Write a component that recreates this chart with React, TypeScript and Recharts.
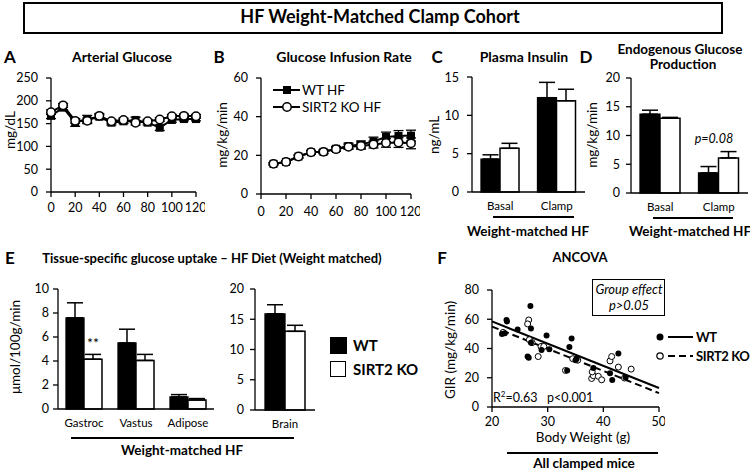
import React from 'react'
import {
  LineChart,
  Line,
  BarChart,
  Bar,
  ScatterChart,
  Scatter,
  XAxis,
  YAxis,
  ErrorBar,
  ReferenceLine
} from 'recharts'

const FONT = 'Lato, "Open Sans", sans-serif'

// A - arterial glucose (mg/dL)
const glucoseTimes = [0, 10, 20, 30, 40, 50, 60, 70, 80, 90, 100, 110, 120]
const glucoseWT = [167, 185, 152, 160, 165, 152, 155, 158, 152, 141, 158, 160, 160]
const glucoseWTErr = [6, 5, 8, 8, 5, 5, 5, 6, 5, 6, 5, 4, 4]
const glucoseKO = [175, 190, 156, 156, 167, 155, 158, 152, 155, 159, 166, 167, 166]
const glucoseKOErr = [5, 4, 5, 6, 5, 4, 4, 5, 4, 4, 4, 4, 4]

// B - glucose infusion rate (mg/kg/min)
const girTimes = [10, 20, 30, 40, 50, 60, 70, 80, 90, 100, 110, 120]
const girWT = [15.6, 16.6, 19.4, 21.6, 21.8, 23.4, 24.8, 25.6, 27.2, 29.5, 30, 30.2]
const girWTErr = [0.6, 0.6, 0.8, 1, 1, 1.2, 1.5, 1.8, 2.2, 2.5, 2.8, 2.8]
const girKO = [15.6, 16.6, 19.4, 21.6, 21.8, 23.2, 24.4, 24.8, 25.6, 26.4, 26.6, 26.2]
const girKOErr = [0.5, 0.5, 0.7, 0.8, 0.8, 1, 1.2, 1.6, 1.8, 2.2, 2.5, 2.8]

// C - plasma insulin (ng/mL)
const clampGroups = ['Basal', 'Clamp']
const insulinWT = [4.3, 12.3]
const insulinWTErr = [0.55, 2.0]
const insulinKO = [5.7, 11.9]
const insulinKOErr = [0.65, 1.5]

// D - endogenous glucose production (mg/kg/min)
const egpWT = [13.7, 3.5]
const egpWTErr = [0.7, 1.1]
const egpKO = [13.0, 6.1]
const egpKOErr = [0.15, 1.1]

// E - tissue glucose uptake (umol/100g/min)
const tissues = ['Gastroc', 'Vastus', 'Adipose']
const uptakeWT = [7.6, 5.5, 1.0]
const uptakeWTErr = [1.25, 1.15, 0.2]
const uptakeKO = [4.15, 4.05, 0.75]
const uptakeKOErr = [0.4, 0.5, 0.12]
const brainGroups = ['Brain']
const brainWT = [15.9]
const brainWTErr = [1.5]
const brainKO = [13.0]
const brainKOErr = [1.0]

// F - GIR vs body weight
const wtWeight = [22.6, 22.7, 21.8, 22.3, 24.6, 26.9, 27.0, 26.4, 26.6, 29.8, 28.9, 30.3, 34.3, 33.9, 33.5, 35.2, 38.2, 42.7, 41.6, 44.0, 41.2, 27.0, 35.0]
const wtGIR = [59.5, 58.5, 50, 50.5, 53, 69, 53.6, 34.5, 33.6, 48.9, 39, 39.5, 46.8, 41, 25, 33, 26.6, 36.5, 18.5, 20.2, 23, 44, 32]
const koWeight = [26.6, 26.4, 26.7, 27.2, 28.3, 28.8, 29.3, 37.9, 38.2, 39.1, 39.7, 41.2, 41.5, 42.7, 45.0, 35.4, 33.2, 43.8, 38.0, 22.0, 34.5]
const koGIR = [59.5, 56.8, 46, 44, 34.5, 41.4, 41.4, 19.5, 21.4, 21, 18.6, 31.5, 34.5, 27.3, 25.9, 32, 25, 19.8, 24, 51, 33]
const fitWeight = [20, 50]
const wtFit = [58.5, 13]
const koFit = [55, 9.5]

const glucoseData = glucoseTimes.map((t, i) => ({
  t,
  wt: glucoseWT[i],
  wtErr: glucoseWTErr[i],
  ko: glucoseKO[i],
  koErr: glucoseKOErr[i]
}))

const girData = girTimes.map((t, i) => ({
  t,
  wt: girWT[i],
  wtErr: girWTErr[i],
  ko: girKO[i],
  koErr: girKOErr[i]
}))

function barTable(names: string[], wt: number[], wtErr: number[], ko: number[], koErr: number[]) {
  return names.map((name, i) => ({
    name,
    wt: wt[i],
    wtErr: [0, wtErr[i]],
    ko: ko[i],
    koErr: [0, koErr[i]]
  }))
}

const insulinData = barTable(clampGroups, insulinWT, insulinWTErr, insulinKO, insulinKOErr)
const egpData = barTable(clampGroups, egpWT, egpWTErr, egpKO, egpKOErr)
const uptakeData = barTable(tissues, uptakeWT, uptakeWTErr, uptakeKO, uptakeKOErr)
const brainData = barTable(brainGroups, brainWT, brainWTErr, brainKO, brainKOErr)

const wtPoints = wtWeight.map((x, i) => ({ x, y: wtGIR[i] }))
const koPoints = koWeight.map((x, i) => ({ x, y: koGIR[i] }))

const axisLine = { stroke: '#000', strokeWidth: 1.3 }
const tickLine = { stroke: '#000', strokeWidth: 1.3 }
const tickStyle = { fill: '#000', fontSize: 12.5, fontFamily: FONT }
const catTickStyle = { fill: '#000', fontSize: 11.5, fontFamily: FONT }

function Txt({ x, y, children, size = 13, bold = false, italic = false, anchor = 'middle', rotate = false, spacing = 0 }: any) {
  const tx = anchor === 'middle' ? '-50%' : anchor === 'end' ? '-100%' : '0'
  return (
    <div
      style={{
        position: 'absolute',
        left: x,
        top: y,
        transform: `translate(${tx}, -50%)${rotate ? ' rotate(-90deg)' : ''}`,
        fontSize: size,
        fontWeight: bold ? 700 : 400,
        fontStyle: italic ? 'italic' : 'normal',
        letterSpacing: spacing,
        whiteSpace: 'nowrap',
        lineHeight: 1.1,
        fontFamily: FONT,
        color: '#000'
      }}
    >
      {children}
    </div>
  )
}

function HLine({ x1, x2, y }: any) {
  return <div style={{ position: 'absolute', left: x1, top: y, width: x2 - x1, height: 1.6, background: '#000' }} />
}

function SquareDot(props: any) {
  const { cx, cy, index } = props
  if (cx == null || cy == null) return null
  return <rect key={`sq-${index}`} x={cx - 4} y={cy - 4} width={8} height={8} fill="#000" />
}

const circleDot = { r: 4.2, fill: '#fff', stroke: '#000', strokeWidth: 1.5 }

function Place({ left, top, children }: any) {
  return <div style={{ position: 'absolute', left, top }}>{children}</div>
}

function GroupBars({ data, width, height, margin, yWidth, yMax, yTicks, yMargin, barSize }: any) {
  const sepTicks = data.map((_: any, i: number) => i).concat(data.length)
  return (
    <BarChart width={width} height={height} data={data} margin={margin} barGap={0} barSize={barSize}>
      <XAxis
        xAxisId="sep"
        type="number"
        domain={[0, data.length]}
        ticks={sepTicks}
        tick={false}
        height={0}
        axisLine={false}
        tickLine={tickLine}
        tickSize={5}
        allowDataOverflow
      />
      <XAxis
        dataKey="name"
        axisLine={axisLine}
        tickLine={false}
        tickSize={0}
        tickMargin={10}
        tick={catTickStyle}
        height={25}
        interval={0}
      />
      <YAxis
        type="number"
        domain={[0, yMax]}
        ticks={yTicks}
        width={yWidth}
        axisLine={axisLine}
        tickLine={tickLine}
        tickSize={5}
        tickMargin={yMargin}
        tick={tickStyle}
      />
      <Bar dataKey="wt" fill="#000" stroke="#000" strokeWidth={1.3} isAnimationActive={false}>
        <ErrorBar dataKey="wtErr" width={8} stroke="#000" strokeWidth={1.5} direction="y" />
      </Bar>
      <Bar dataKey="ko" fill="#fff" stroke="#000" strokeWidth={1.5} isAnimationActive={false}>
        <ErrorBar dataKey="koErr" width={8} stroke="#000" strokeWidth={1.5} direction="y" />
      </Bar>
    </BarChart>
  )
}

function TimeCourse({ data, width, height, margin, yMax, yTicks, xMargin }: any) {
  return (
    <LineChart width={width} height={height} data={data} margin={margin}>
      <XAxis
        dataKey="t"
        type="number"
        domain={[0, 120]}
        ticks={[0, 20, 40, 60, 80, 100, 120]}
        axisLine={axisLine}
        tickLine={tickLine}
        tickSize={5}
        tickMargin={xMargin}
        tick={tickStyle}
        height={25}
      />
      <YAxis
        type="number"
        domain={[0, yMax]}
        ticks={yTicks}
        width={51}
        axisLine={axisLine}
        tickLine={tickLine}
        tickSize={5}
        tickMargin={8}
        tick={tickStyle}
      />
      <Line dataKey="wt" stroke="#000" strokeWidth={2} dot={SquareDot} isAnimationActive={false}>
        <ErrorBar dataKey="wtErr" width={5} stroke="#000" strokeWidth={1.3} direction="y" />
      </Line>
      <Line dataKey="ko" stroke="#000" strokeWidth={2} dot={circleDot} isAnimationActive={false}>
        <ErrorBar dataKey="koErr" width={5} stroke="#000" strokeWidth={1.3} direction="y" />
      </Line>
    </LineChart>
  )
}

function FilledDot(props: any) {
  return <circle cx={props.cx} cy={props.cy} r={3} fill="#000" />
}

function OpenDot(props: any) {
  return <circle cx={props.cx} cy={props.cy} r={3} fill="#fff" stroke="#000" strokeWidth={1} />
}

export default function App() {
  return (
    <div
      style={{
        position: 'absolute',
        left: 0,
        top: 0,
        width: 750,
        height: 470,
        background: '#fff',
        overflow: 'hidden',
        fontFamily: FONT
      }}
    >
      {/* header */}
      <div
        style={{
          position: 'absolute',
          left: 23,
          top: 2,
          width: 696,
          height: 28,
          border: '2px solid #000'
        }}
      />
      <Txt x={380} y={17} size={18} bold>HF Weight-Matched Clamp Cohort</Txt>

      {/* A */}
      <Txt x={10} y={57} size={17} bold>A</Txt>
      <Txt x={122} y={57} size={14} bold>Arterial Glucose</Txt>
      <Txt x={10} y={130} size={13.5} rotate>mg/dL</Txt>
      <Place left={0} top={70}>
        <TimeCourse
          data={glucoseData}
          width={205}
          height={147}
          margin={{ top: 8, right: 9, left: 0, bottom: 0 }}
          yMax={250}
          yTicks={[0, 50, 100, 150, 200, 250]}
          xMargin={6}
        />
      </Place>

      {/* B */}
      <Txt x={219} y={57} size={17} bold>B</Txt>
      <Txt x={344} y={57} size={14} bold>Glucose Infusion Rate</Txt>
      <Txt x={222} y={135} size={13.5} rotate>mg/kg/min</Txt>
      <Place left={210} top={70}>
        <TimeCourse
          data={girData}
          width={210}
          height={149}
          margin={{ top: 8, right: 9, left: 0, bottom: 0 }}
          yMax={60}
          yTicks={[0, 20, 40, 60]}
          xMargin={8}
        />
      </Place>
      <svg style={{ position: 'absolute', left: 270, top: 80 }} width={34} height={36}>
        <line x1={3} x2={30} y1={10} y2={10} stroke="#000" strokeWidth={2} />
        <rect x={13} y={6} width={8} height={8} fill="#000" />
        <line x1={3} x2={30} y1={27} y2={27} stroke="#000" strokeWidth={2} />
        <circle cx={17} cy={27} r={4.2} fill="#fff" stroke="#000" strokeWidth={1.5} />
      </svg>
      <Txt x={302} y={90} size={13.5} anchor="start">WT HF</Txt>
      <Txt x={302} y={107} size={13.5} anchor="start">SIRT2 KO HF</Txt>

      {/* C */}
      <Txt x={437} y={57} size={17} bold>C</Txt>
      <Txt x={524} y={57} size={14} bold>Plasma Insulin</Txt>
      <Txt x={434} y={135} size={13.5} rotate>ng/mL</Txt>
      <Place left={440} top={70}>
        <GroupBars
          data={insulinData}
          width={150}
          height={147}
          margin={{ top: 7, right: 5, left: 0, bottom: 0 }}
          yWidth={32}
          yMax={15}
          yTicks={[0, 5, 10, 15]}
          yMargin={8}
          barSize={19}
        />
      </Place>
      <HLine x1={493} x2={574} y={216} />
      <Txt x={528} y={231} size={13.5} bold>Weight-matched HF</Txt>

      {/* D */}
      <Txt x={586} y={57} size={17} bold>D</Txt>
      <Txt x={680} y={49} size={13.5} bold>Endogenous Glucose</Txt>
      <Txt x={683} y={64} size={13.5} bold>Production</Txt>
      <Txt x={592} y={135} size={13.5} rotate>mg/kg/min</Txt>
      <Place left={600} top={70}>
        <GroupBars
          data={egpData}
          width={150}
          height={148}
          margin={{ top: 8, right: 2, left: 0, bottom: 0 }}
          yWidth={31}
          yMax={20}
          yTicks={[0, 5, 10, 15, 20]}
          yMargin={6}
          barSize={20}
        />
      </Place>
      <Txt x={714} y={139} size={12.5} italic>p=0.08</Txt>
      <HLine x1={653} x2={733} y={217} />
      <Txt x={690} y={231} size={13.5} bold>Weight-matched HF</Txt>

      {/* E */}
      <Txt x={10} y={258} size={17} bold>E</Txt>
      <Txt x={212} y={258} size={13} bold>Tissue-specific glucose uptake – HF Diet (Weight matched)</Txt>
      <Txt x={15} y={347} size={13.5} rotate>μmol/100g/min</Txt>
      <Place left={20} top={280}>
        <GroupBars
          data={uptakeData}
          width={200}
          height={154}
          margin={{ top: 9, right: 6, left: 0, bottom: 0 }}
          yWidth={38}
          yMax={10}
          yTicks={[0, 2, 4, 6, 8, 10]}
          yMargin={4}
          barSize={18}
        />
      </Place>
      <Txt x={93} y={343} size={14}>**</Txt>
      <Place left={230} top={280}>
        <GroupBars
          data={brainData}
          width={90}
          height={155}
          margin={{ top: 9, right: 5, left: 0, bottom: 0 }}
          yWidth={25}
          yMax={20}
          yTicks={[0, 5, 10, 15, 20]}
          yMargin={6}
          barSize={20}
        />
      </Place>
      <HLine x1={71} x2={294} y={437} />
      <Txt x={182} y={450} size={13.5} bold>Weight-matched HF</Txt>
      <div style={{ position: 'absolute', left: 330, top: 337, width: 17, height: 17, background: '#000' }} />
      <div style={{ position: 'absolute', left: 330, top: 361, width: 14, height: 14, border: '1.5px solid #000', background: '#fff' }} />
      <Txt x={353} y={345} size={15} bold anchor="start">WT</Txt>
      <Txt x={353} y={369} size={15} bold anchor="start">SIRT2 KO</Txt>

      {/* F */}
      <Txt x={442} y={258} size={17} bold>F</Txt>
      <Txt x={580} y={257} size={13} bold>ANCOVA</Txt>
      <Txt x={450} y={350} size={13.5} rotate>GIR (mg/kg/min)</Txt>
      <Place left={450} top={280}>
        <ScatterChart width={215} height={152} margin={{ top: 10, right: 6, left: 0, bottom: 0 }}>
          <XAxis
            dataKey="x"
            type="number"
            domain={[20, 50]}
            ticks={[20, 30, 40, 50]}
            axisLine={axisLine}
            tickLine={tickLine}
            tickSize={5}
            tickMargin={5}
            tick={tickStyle}
            height={25}
          />
          <YAxis
            dataKey="y"
            type="number"
            domain={[0, 80]}
            ticks={[0, 20, 40, 60, 80]}
            width={42}
            axisLine={axisLine}
            tickLine={tickLine}
            tickSize={5}
            tickMargin={8}
            tick={tickStyle}
          />
          <ReferenceLine
            segment={[{ x: fitWeight[0], y: wtFit[0] }, { x: fitWeight[1], y: wtFit[1] }]}
            stroke="#000"
            strokeWidth={2}
            ifOverflow="visible"
          />
          <ReferenceLine
            segment={[{ x: fitWeight[0], y: koFit[0] }, { x: fitWeight[1], y: koFit[1] }]}
            stroke="#000"
            strokeWidth={2}
            strokeDasharray="7 4"
            ifOverflow="visible"
          />
          <Scatter data={koPoints} shape={OpenDot} isAnimationActive={false} />
          <Scatter data={wtPoints} shape={FilledDot} isAnimationActive={false} />
        </ScatterChart>
      </Place>
      <Txt x={493} y={397} size={12.5} anchor="start">
        R<sup style={{ fontSize: 8 }}>2</sup>=0.63&nbsp;&nbsp;&nbsp;p&lt;0.001
      </Txt>
      <div
        style={{
          position: 'absolute',
          left: 592,
          top: 279,
          width: 71,
          height: 35,
          border: '1.5px solid #000',
          background: '#fff'
        }}
      />
      <Txt x={629} y={289} size={13} italic>Group effect</Txt>
      <Txt x={629} y={305} size={13} italic>p&gt;0.05</Txt>
      <svg style={{ position: 'absolute', left: 654, top: 328 }} width={42} height={36}>
        <circle cx={6} cy={9} r={3.5} fill="#000" />
        <line x1={14} x2={39} y1={9} y2={9} stroke="#000" strokeWidth={2} />
        <circle cx={6} cy={28} r={3.2} fill="#fff" stroke="#000" strokeWidth={1.2} />
        <line x1={14} x2={39} y1={28} y2={28} stroke="#000" strokeWidth={2} strokeDasharray="7 4" />
      </svg>
      <Txt x={696} y={337} size={13} bold anchor="start" spacing={-0.3}>WT</Txt>
      <Txt x={696} y={356} size={13} bold anchor="start" spacing={-0.4}>SIRT2 KO</Txt>
      <Txt x={583} y={437} size={13.5}>Body Weight (g)</Txt>
      <HLine x1={507} x2={658} y={452} />
      <Txt x={584} y={463} size={13.5} bold>All clamped mice</Txt>
    </div>
  )
}
